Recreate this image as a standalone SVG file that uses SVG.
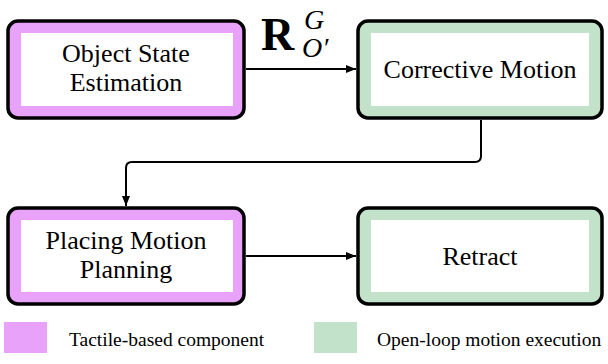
<svg xmlns="http://www.w3.org/2000/svg" width="608" height="364" viewBox="0 0 608 364">
<defs>
<marker id="ah" viewBox="0 0 10 8" refX="10" refY="4" markerWidth="10" markerHeight="8" markerUnits="userSpaceOnUse" orient="auto">
<path d="M0,0 L10,4 L0,8 Z" fill="#000"/>
</marker>
<style>
.outer{stroke:#000;stroke-width:3.5}
.pink{fill:#e8a2f9}
.green{fill:#c2e3ca}
.inner{fill:#fff}
text{font-family:'Liberation Serif','Times New Roman','DejaVu Serif',Times,serif;fill:#000}
.t{font-size:26px;text-anchor:middle}
.lg{font-size:19.5px}
.c{fill:none;stroke:#000;stroke-width:2}
</style>
</defs>
<rect width="608" height="364" fill="#fff"/>
<g id="object-state-estimation">
<rect class="outer pink" x="8" y="21" width="236" height="97" rx="10"/>
<rect class="inner" x="21" y="33" width="212" height="73"/>
<text class="t" x="126" y="62">Object State</text>
<text class="t" x="126" y="91">Estimation</text>
</g>
<g id="corrective-motion">
<rect class="outer green" x="358" y="21" width="244" height="97" rx="10"/>
<rect class="inner" x="371" y="33" width="218" height="73"/>
<text class="t" x="480" y="78">Corrective Motion</text>
</g>
<g id="placing-motion-planning">
<rect class="outer pink" x="8" y="208" width="236" height="96" rx="10"/>
<rect class="inner" x="21" y="220" width="212" height="72"/>
<text class="t" x="126" y="249">Placing Motion</text>
<text class="t" x="126" y="278">Planning</text>
</g>
<g id="retract">
<rect class="outer green" x="358" y="208" width="244" height="96" rx="10"/>
<rect class="inner" x="371" y="220" width="218" height="72"/>
<text class="t" x="480" y="265">Retract</text>
</g>
<g id="connectors">
<path class="c" d="M246,69 H356" marker-end="url(#ah)"/>
<path class="c" d="M481,120 V156 Q481,162 475,162 H132 Q126,162 126,168 V206" marker-end="url(#ah)"/>
<path class="c" d="M246,256 H356" marker-end="url(#ah)"/>
<g id="label-R">
<text x="261" y="50" font-size="46" font-weight="bold">R</text>
<text x="304" y="29" font-size="28" font-style="italic">G</text>
<text x="302" y="57" font-size="28" font-style="italic">O′</text>
</g>
</g>
<g id="legend">
<rect class="pink" x="4" y="322" width="43" height="31"/>
<text class="lg" x="69" y="346">Tactile-based component</text>
<rect class="green" x="314" y="322" width="43" height="31"/>
<text class="lg" x="377" y="346">Open-loop motion execution</text>
</g>
</svg>
